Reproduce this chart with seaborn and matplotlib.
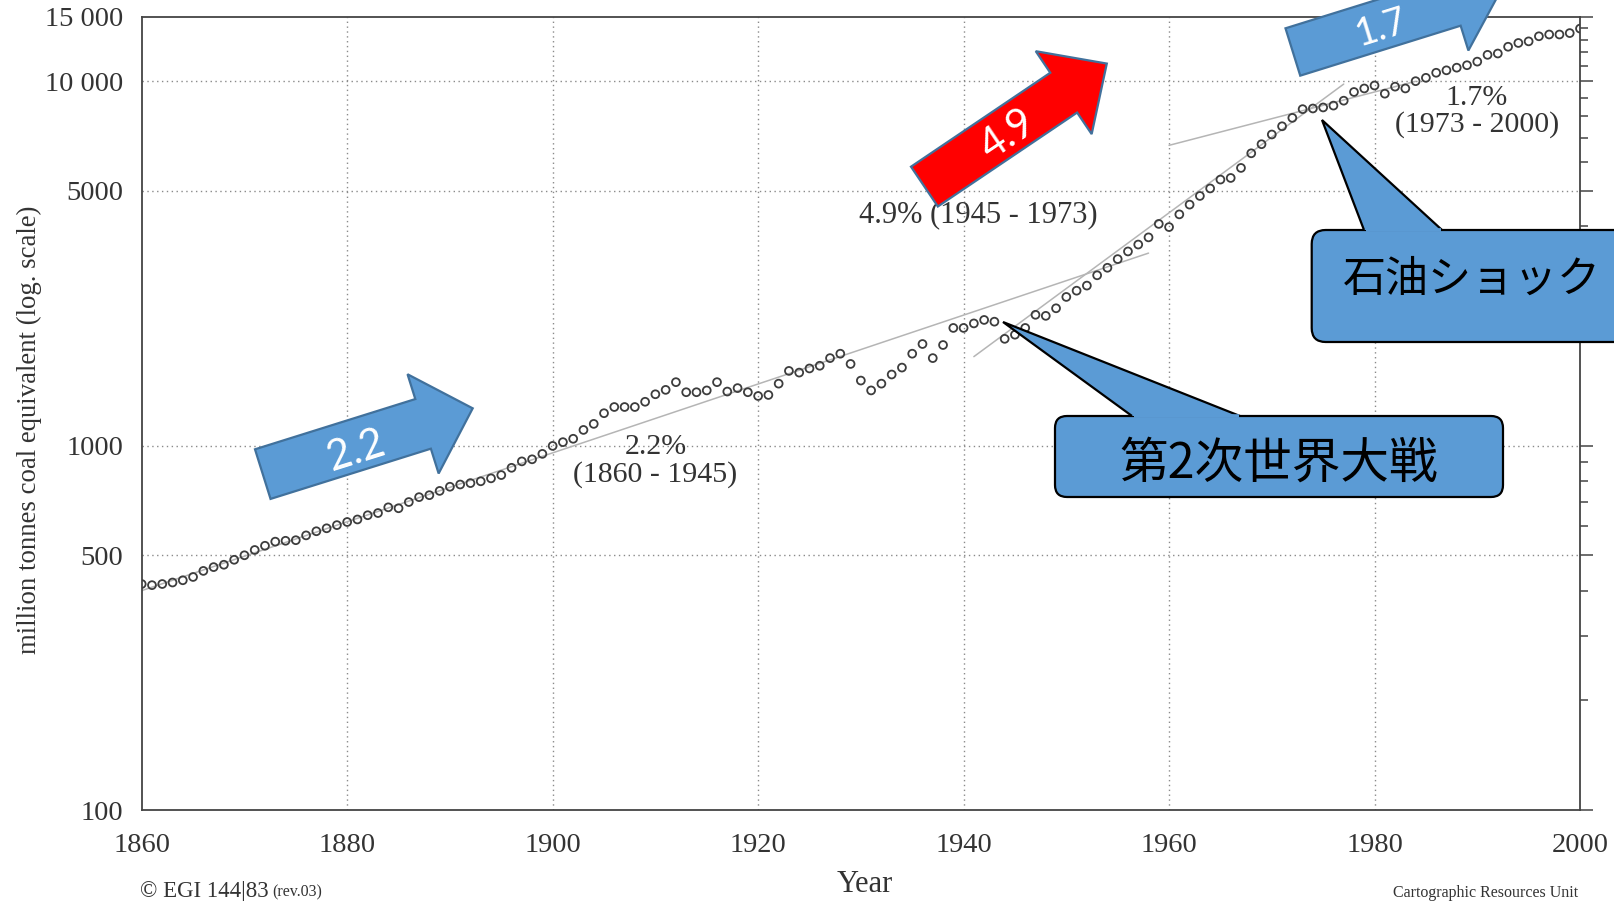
import numpy as np
import pandas as pd
import matplotlib
matplotlib.use("Agg")
import matplotlib.pyplot as plt
import seaborn as sns
from matplotlib.patches import Polygon, FancyBboxPatch
from matplotlib.ticker import FixedLocator, FixedFormatter, MultipleLocator, FuncFormatter

# ---------------------------------------------------------------- data
years = list(range(1860, 2001))
energy = [
    417, 414, 417, 421, 427, 436, 453, 464, 471, 486,            # 1860-1869
    500, 517, 531, 545, 548, 550, 567, 582, 593, 605,            # 1870-1879
    617, 627, 644, 653, 677, 673, 700, 722, 731, 751,            # 1880-1889
    771, 782, 789, 798, 813, 830, 869, 905, 917, 949,            # 1890-1899
    998, 1022, 1044, 1104, 1147, 1227, 1276, 1276, 1276, 1319,   # 1900-1909
    1383, 1422, 1493, 1401, 1401, 1417, 1493, 1407, 1438, 1401,  # 1910-1919
    1368, 1377, 1479, 1603, 1586, 1628, 1656, 1738, 1787, 1675,  # 1920-1929
    1508, 1417, 1479, 1567, 1637, 1787, 1900, 1738, 1888, 2103,  # 1930-1939
    2103, 2164, 2212, 2188, 1963, 2015, 2103, 2285, 2270, 2381,  # 1940-1949
    2558, 2661, 2748, 2933, 3076, 3249, 3410, 3562, 3727, 4058,  # 1950-1959
    3978, 4310, 4584, 4842, 5077, 5370, 5425, 5780, 6340, 6715,  # 1960-1969
    7140, 7520, 7930, 8380, 8415, 8470, 8570, 8840, 9340, 9550,  # 1970-1979
    9730, 9240, 9660, 9550, 10000, 10214, 10546, 10710, 10890, 11060,  # 1980-1989
    11315, 11810, 11910, 12430, 12730, 12860, 13280, 13430, 13430, 13550,  # 1990-1999
    13940,                                                       # 2000
]

# growth-rate trend lines: rate (% per year), drawn span, anchor (year, value)
trend_rates = [2.2, 4.9, 1.7]
trend_spans = [(1860, 1958), (1941, 1977), (1960, 1984)]
trend_anchors = [(1900, 955), (1959, 4150), (1973, 8300)]

ytick_values = [100, 500, 1000, 5000, 10000, 15000]
ytick_labels = ["100", "500", "1000", "5000", "10 000", "15 000"]
ygrid_values = [500, 1000, 5000, 10000]
yminor_values = [200, 300, 400, 600, 700, 800, 900, 2000, 3000, 4000,
                 6000, 7000, 8000, 9000, 11000, 12000, 13000, 14000]
xgrid_values = [1880, 1900, 1920, 1940, 1960, 1980]

# ---------------------------------------------------------------- style
sns.set_style("white")
plt.rcParams["font.family"] = ["Liberation Serif", "Noto Sans CJK JP", "DejaVu Sans"]
INK = "#333333"
AXC = "#444444"
BLUE = "#5B9BD5"
BLUE_EDGE = "#41719C"

W, H = 1614, 901
fig = plt.figure(figsize=(W / 100, H / 100), dpi=100)
fig.patch.set_facecolor("white")

left_px, right_px, top_px, bottom_px = 141.7, 1580, 17, 810
ax = fig.add_axes([left_px / W, (H - bottom_px) / H,
                   (right_px - left_px) / W, (bottom_px - top_px) / H])
ax.set_facecolor("white")

# dotted reference grid
for gx in xgrid_values:
    ax.axvline(gx, color="#8a8a8a", lw=1.0, ls=(0, (1, 2.5)), zorder=1)
for gy in ygrid_values:
    ax.axhline(gy, color="#8a8a8a", lw=1.0, ls=(0, (1, 2.5)), zorder=1)

# trend lines
for rate, (y0, y1), (ya, va) in zip(trend_rates, trend_spans, trend_anchors):
    seg_years = [y0, y1]
    seg_vals = [va * (1 + rate / 100) ** (yy - ya) for yy in seg_years]
    sns.lineplot(x=seg_years, y=seg_vals, ax=ax, color="#b5b5b5", lw=1.1, zorder=2)

# yearly consumption
df = pd.DataFrame({"year": years, "energy": energy})
sns.scatterplot(data=df, x="year", y="energy", ax=ax, marker="o", s=32,
                facecolors="none", edgecolor="#3d3d3d", linewidth=1.3, zorder=4)

ax.set_yscale("log")
ax.set_xlim(1860, 2000)
ax.set_ylim(100, 15000)

ax.xaxis.set_major_locator(MultipleLocator(10))
ax.xaxis.set_minor_locator(MultipleLocator(5))
ax.xaxis.set_major_formatter(FuncFormatter(lambda v, _: f"{int(round(v))}" if round(v) % 20 == 0 else ""))
ax.yaxis.set_major_locator(FixedLocator(ytick_values))
ax.yaxis.set_major_formatter(FixedFormatter(ytick_labels))
ax.yaxis.set_minor_locator(FixedLocator(yminor_values))
ax.yaxis.set_minor_formatter(FuncFormatter(lambda v, _: ""))

ax.tick_params(axis="x", which="major", direction="out", length=8.6, width=1.1,
               color=AXC, labelsize=20.5, labelcolor=INK, pad=8)
ax.tick_params(axis="x", which="minor", direction="out", length=4.3, width=1.1, color=AXC)
ax.tick_params(axis="y", which="major", direction="out", length=9.5, width=1.1,
               color=AXC, labelsize=20.5, labelcolor=INK, pad=4, right=True, labelright=False)
ax.tick_params(axis="y", which="minor", direction="out", length=5.8, width=1.1,
               color=AXC, right=True)
for s in ax.spines.values():
    s.set_visible(True)
    s.set_color(AXC)
    s.set_linewidth(1.3)

ax.set_xlabel("Year", fontsize=22, color=INK, va="center")
ax.xaxis.set_label_coords((865 - left_px) / (right_px - left_px),
                          (bottom_px - 884) / (bottom_px - top_px))
ax.set_ylabel("million tonnes coal equivalent (log. scale)", fontsize=19.3,
              color=INK, va="center")
ax.yaxis.set_label_coords((29 - left_px) / (right_px - left_px),
                          (bottom_px - 430) / (bottom_px - top_px))

# ---------------------------------------------------------------- overlay (pixel units)
ov = fig.add_axes([0, 0, 1, 1], zorder=10)
ov.set_xlim(0, W)
ov.set_ylim(H, 0)
ov.axis("off")
ov.patch.set_alpha(0)

serif = ["Liberation Serif"]
ov.text(655.6, 447, "2.2%", ha="center", va="center", fontsize=21.5, color=INK, family=serif)
ov.text(655.6, 475, "(1860 - 1945)", ha="center", va="center", fontsize=21.5, color=INK, family=serif)
ov.text(978.6, 215, "4.9% (1945 - 1973)", ha="center", va="center", fontsize=22, color=INK, family=serif)
ov.text(1477, 97.8, "1.7%", ha="center", va="center", fontsize=21.5, color=INK, family=serif)
ov.text(1477, 124.5, "(1973 - 2000)", ha="center", va="center", fontsize=21.5, color=INK, family=serif)

ov.text(140, 891, "\u00a9 EGI 144|83", ha="left", va="center", fontsize=16.5, color=INK, family=serif)
ov.text(272, 892, "(rev.03)", ha="left", va="center", fontsize=11.5, color=INK, family=serif)
ov.text(1578, 893, "Cartographic Resources Unit", ha="right", va="center", fontsize=11.5,
        color=INK, family=serif)


def block_arrow(x0, y0, ang, shaft=168, width=50, head_extra=26, head_len=52,
                fc=BLUE, ec=BLUE_EDGE):
    a = np.radians(ang)
    u = np.array([np.cos(a), -np.sin(a)])
    n = np.array([np.sin(a), np.cos(a)])
    p0 = np.array([x0, y0])

    def P(s, t):
        return p0 + s * u + t * n

    pts = [P(0, 0), P(shaft, 0), P(shaft, -head_extra), P(shaft + head_len, width / 2),
           P(shaft, width + head_extra), P(shaft, width), P(0, width)]
    ov.add_patch(Polygon(pts, closed=True, fc=fc, ec=ec, lw=1.6, joinstyle="miter", zorder=5))


label_font = ["Lato", "DejaVu Sans"]
block_arrow(255, 449.3, 17.4, width=52)
ov.text(355.8, 450.8, "2.2", rotation=17.4, rotation_mode="anchor", ha="center", va="center",
        fontsize=30, color="white", family=label_font, zorder=6)

block_arrow(911, 166.7, 34.0, width=48, fc="#FF0000")
ov.text(1007.4, 135, "4.9", rotation=34.0, rotation_mode="anchor", ha="center", va="center",
        fontsize=30, color="white", family=label_font, zorder=6)

block_arrow(1285.5, 28.3, 17.3, width=49.6)
ov.text(1381.7, 28, "1.7", rotation=17.3, rotation_mode="anchor", ha="center", va="center",
        fontsize=27, color="white", family=label_font, zorder=6)


def callout(box, radius, base, tip, text, fs, txy):
    x0, y0, x1, y1 = box
    ov.add_patch(FancyBboxPatch((x0, y0), x1 - x0, y1 - y0,
                                boxstyle=f"round,pad=0,rounding_size={radius}",
                                fc=BLUE, ec="black", lw=1.6, zorder=5))
    ov.add_patch(Polygon([(base[0], y0), tip, (base[1], y0)], closed=False,
                         fc=BLUE, ec="black", lw=1.6, joinstyle="miter", zorder=6))
    ov.plot([base[0] + 1.5, base[1] - 1.5], [y0, y0], color=BLUE, lw=2.6,
            solid_capstyle="butt", zorder=7)
    ov.text(txy[0], txy[1], text, ha="center", va="center", fontsize=fs, color="black",
            family=["Noto Sans CJK JP", "DejaVu Sans"], zorder=8)


callout((1055, 416, 1503, 497), 12, (1132, 1240), (1003, 322), "第2次世界大戦", 35, (1279, 464))
callout((1311.7, 230, 1660, 342), 14, (1364, 1442), (1322, 120), "石油ショック", 31, (1472, 280))

fig.savefig("out.png", dpi=100)
